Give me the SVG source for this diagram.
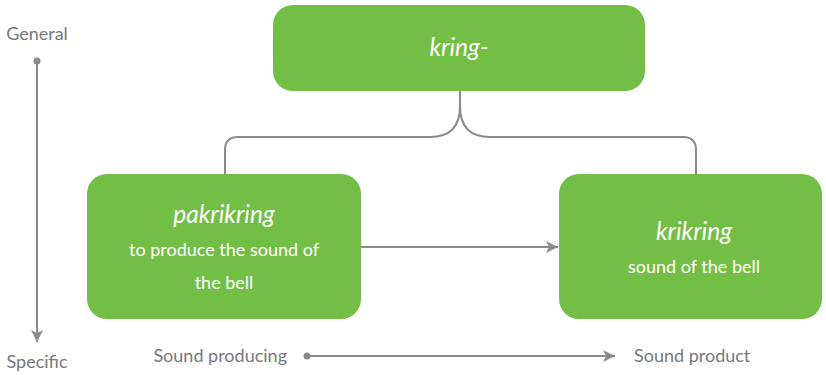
<svg xmlns="http://www.w3.org/2000/svg" width="826" height="375" viewBox="0 0 826 375">
  <defs>
    <style>
      .box { fill: #73bf45; }
      .term { font-family: Lato, "Open Sans", sans-serif; font-style: italic; font-size: 24.5px; fill: #ffffff; text-anchor: middle; }
      .gloss { font-family: Lato, "Open Sans", sans-serif; font-size: 18px; fill: #ffffff; text-anchor: middle; }
      .axis-label { font-family: Lato, "Open Sans", sans-serif; font-size: 18px; fill: #77787b; }
      .line { fill: none; stroke: #8a8b8e; stroke-width: 2; }
    </style>
    <marker id="arrow-big" viewBox="0 0 10 10" refX="10" refY="5" markerWidth="16" markerHeight="12" markerUnits="userSpaceOnUse" orient="auto">
      <path d="M0,0 L10,5 L0,10 L2.5,5 Z" fill="#8a8b8e"/>
    </marker>
  </defs>

  <!-- connectors -->
  <g id="connectors">
    <path class="line" d="M460,91 V106 Q460,137 430,137 H238 Q225,137 225,150 V174"/>
    <path class="line" d="M460,106 Q460,137 490,137 H683 Q696,137 696,150 V174"/>
    <path class="line" d="M361,247 H558" marker-end="url(#arrow-big)"/>
  </g>

  <!-- general → specific axis -->
  <g id="axis-vertical">
    <text class="axis-label" x="37" y="40" text-anchor="middle">General</text>
    <circle cx="37" cy="61" r="3.5" fill="#8a8b8e"/>
    <path class="line" d="M37,61 V342" marker-end="url(#arrow-big)"/>
    <text class="axis-label" x="37" y="368" text-anchor="middle">Specific</text>
  </g>

  <!-- sound producing → sound product axis -->
  <g id="axis-horizontal">
    <text class="axis-label" x="287" y="362" text-anchor="end">Sound producing</text>
    <circle cx="307" cy="356" r="3.5" fill="#8a8b8e"/>
    <path class="line" d="M307,356 H615" marker-end="url(#arrow-big)"/>
    <text class="axis-label" x="634" y="362">Sound product</text>
  </g>

  <g id="node-kring">
    <rect class="box" x="273" y="5" width="372" height="86" rx="20"/>
    <text class="term" x="459" y="56">kring-</text>
  </g>

  <g id="node-pakrikring">
    <rect class="box" x="87" y="174" width="274" height="145" rx="20"/>
    <text class="term" x="224" y="223">pakrikring</text>
    <text class="gloss" x="224" y="256">to produce the sound of</text>
    <text class="gloss" x="224" y="289">the bell</text>
  </g>

  <g id="node-krikring">
    <rect class="box" x="559" y="174" width="263" height="145" rx="20"/>
    <text class="term" x="694" y="240">krikring</text>
    <text class="gloss" x="694" y="273">sound of the bell</text>
  </g>
</svg>
